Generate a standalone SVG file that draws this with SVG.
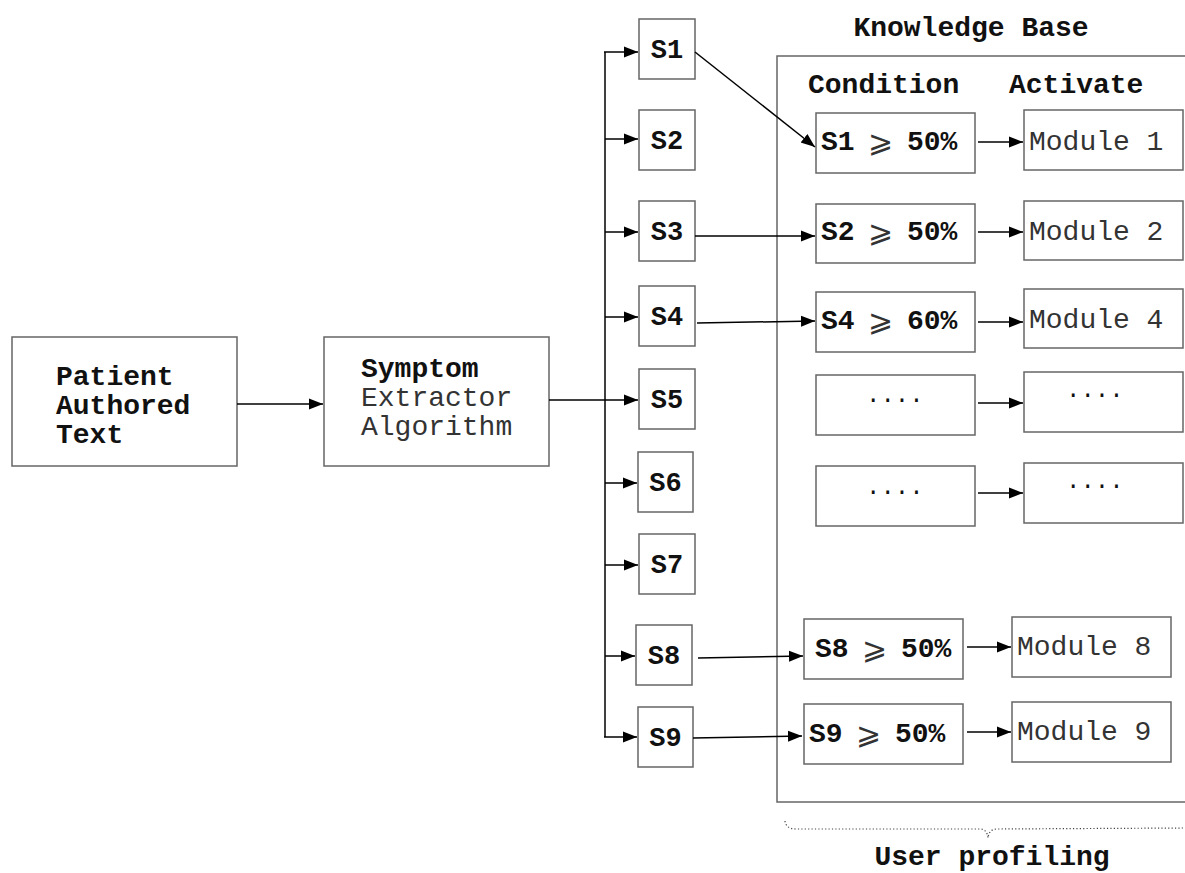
<svg xmlns="http://www.w3.org/2000/svg" width="1185" height="873" viewBox="0 0 1185 873">
<style>
.box{fill:#fff;stroke:#666;stroke-width:1.5}
.ln{fill:none;stroke:#000;stroke-width:1.5}
.arr{fill:none;stroke:#000;stroke-width:1.5;marker-end:url(#ah)}
.b{font-family:"Liberation Mono","Courier New",monospace;font-weight:bold;font-size:28px;fill:#111}
.n{font-family:"Liberation Mono","Courier New",monospace;font-weight:normal;font-size:28px;fill:#333}
.s{font-family:"Liberation Mono","Courier New",monospace;font-weight:bold;font-size:27px;fill:#111;text-anchor:middle}
.g{font-family:"DejaVu Sans","DejaVu Sans Mono",sans-serif;font-weight:normal;font-size:30px;fill:#333}
.d{font-family:"Liberation Mono","Courier New",monospace;font-size:24px;fill:#111}
.brace{fill:none;stroke:#444;stroke-width:1.2;stroke-dasharray:1.2 2.2}
</style>
<defs>
<marker id="ah" markerUnits="userSpaceOnUse" markerWidth="16" markerHeight="14" refX="14" refY="6" orient="auto">
<path d="M0,0.5 L14,6 L0,11.5 Z" fill="#000"/>
</marker>
</defs>

<g id="knowledge-base">
<rect class="box" x="777" y="56" width="430" height="746"/>
<text class="b" x="971" y="36" text-anchor="middle">Knowledge Base</text>
<text class="b" x="808" y="93">Condition</text>
<text class="b" x="1009" y="93">Activate</text>
</g>

<g id="patient-text">
<rect class="box" x="12" y="337" width="225" height="129"/>
<text class="b" x="56" y="385">Patient</text>
<text class="b" x="56" y="414">Authored</text>
<text class="b" x="56" y="443">Text</text>
</g>

<g id="symptom-extractor">
<rect class="box" x="324" y="337" width="225" height="129"/>
<text class="b" x="361" y="377">Symptom</text>
<text class="n" x="361" y="406">Extractor</text>
<text class="n" x="361" y="435">Algorithm</text>
</g>

<g id="s1"><rect class="box" x="639" y="19" width="56" height="60"/><text class="s" x="667" y="58">S1</text></g>
<g id="s2"><rect class="box" x="639" y="110" width="56" height="60"/><text class="s" x="667" y="149">S2</text></g>
<g id="s3"><rect class="box" x="639" y="201" width="56" height="60"/><text class="s" x="667" y="240">S3</text></g>
<g id="s4"><rect class="box" x="639" y="286" width="56" height="60"/><text class="s" x="667" y="325">S4</text></g>
<g id="s5"><rect class="box" x="639" y="369" width="56" height="60"/><text class="s" x="667" y="408">S5</text></g>
<g id="s6"><rect class="box" x="638" y="452" width="55" height="60"/><text class="s" x="665.5" y="491">S6</text></g>
<g id="s7"><rect class="box" x="639" y="534" width="56" height="60"/><text class="s" x="667" y="573">S7</text></g>
<g id="s8"><rect class="box" x="636" y="625" width="56" height="60"/><text class="s" x="664" y="664">S8</text></g>
<g id="s9"><rect class="box" x="638" y="707" width="55" height="60"/><text class="s" x="665.5" y="746">S9</text></g>

<g id="cond-s1"><rect class="box" x="816" y="113" width="159" height="60"/>
<text class="b"><tspan x="821" y="150">S1</tspan> <tspan class="g" x="868" y="152">⩾</tspan> <tspan x="907" y="150">50%</tspan></text></g>
<g id="cond-s2"><rect class="box" x="816" y="204" width="159" height="59"/>
<text class="b"><tspan x="821" y="240">S2</tspan> <tspan class="g" x="868" y="242">⩾</tspan> <tspan x="907" y="240">50%</tspan></text></g>
<g id="cond-s4"><rect class="box" x="816" y="292" width="159" height="60"/>
<text class="b"><tspan x="821" y="329">S4</tspan> <tspan class="g" x="868" y="331">⩾</tspan> <tspan x="907" y="329">60%</tspan></text></g>
<g id="cond-dots1"><rect class="box" x="816" y="375" width="159" height="60"/><text class="d" x="866" y="402">....</text></g>
<g id="cond-dots2"><rect class="box" x="816" y="466" width="159" height="60"/><text class="d" x="866" y="494">....</text></g>
<g id="cond-s8"><rect class="box" x="804" y="619" width="159" height="60"/>
<text class="b"><tspan x="815" y="657">S8</tspan> <tspan class="g" x="862" y="659">⩾</tspan> <tspan x="901" y="657">50%</tspan></text></g>
<g id="cond-s9"><rect class="box" x="804" y="704" width="159" height="60"/>
<text class="b"><tspan x="809" y="742">S9</tspan> <tspan class="g" x="856" y="744">⩾</tspan> <tspan x="895" y="742">50%</tspan></text></g>

<g id="module-1"><rect class="box" x="1024" y="110" width="159" height="60"/><text class="n" x="1029" y="150">Module 1</text></g>
<g id="module-2"><rect class="box" x="1024" y="201" width="159" height="59"/><text class="n" x="1029" y="240">Module 2</text></g>
<g id="module-4"><rect class="box" x="1024" y="289" width="159" height="59"/><text class="n" x="1029" y="328">Module 4</text></g>
<g id="module-dots1"><rect class="box" x="1024" y="372" width="159" height="60"/><text class="d" x="1066" y="397">....</text></g>
<g id="module-dots2"><rect class="box" x="1024" y="463" width="159" height="60"/><text class="d" x="1066" y="488">....</text></g>
<g id="module-8"><rect class="box" x="1012" y="617" width="159" height="60"/><text class="n" x="1017" y="655">Module 8</text></g>
<g id="module-9"><rect class="box" x="1012" y="702" width="159" height="60"/><text class="n" x="1017" y="740">Module 9</text></g>

<g id="user-profiling">
<path class="brace" d="M785,821 Q786,829 796,829 L980,829 Q987,829 988,838 Q989,829 997,829 L1185,828"/>
<text class="b" x="992" y="865" text-anchor="middle">User profiling</text>
</g>

<g id="connectors">
<line class="arr" x1="237" y1="404" x2="323" y2="404"/>
<line class="ln" x1="549" y1="400" x2="605" y2="400"/>
<line class="ln" x1="605" y1="52" x2="605" y2="737"/>
<line class="arr" x1="604" y1="52" x2="638" y2="52"/>
<line class="arr" x1="605" y1="139" x2="638" y2="139"/>
<line class="arr" x1="605" y1="232" x2="638" y2="232"/>
<line class="arr" x1="605" y1="317" x2="638" y2="317"/>
<line class="arr" x1="605" y1="400" x2="638" y2="400"/>
<line class="arr" x1="605" y1="483" x2="637" y2="483"/>
<line class="arr" x1="605" y1="565" x2="638" y2="565"/>
<line class="arr" x1="605" y1="656" x2="635" y2="656"/>
<line class="arr" x1="604" y1="737" x2="637" y2="737"/>
<line class="arr" x1="695" y1="52" x2="815" y2="147"/>
<line class="arr" x1="695" y1="236" x2="815" y2="236"/>
<line class="arr" x1="697" y1="323" x2="815" y2="321"/>
<line class="arr" x1="698" y1="658" x2="803" y2="656"/>
<line class="arr" x1="693" y1="738" x2="802" y2="736"/>
<line class="arr" x1="978" y1="142" x2="1023" y2="142"/>
<line class="arr" x1="978" y1="232" x2="1023" y2="232"/>
<line class="arr" x1="978" y1="322" x2="1023" y2="322"/>
<line class="arr" x1="978" y1="403" x2="1023" y2="403"/>
<line class="arr" x1="978" y1="493" x2="1023" y2="493"/>
<line class="arr" x1="967" y1="647" x2="1011" y2="647"/>
<line class="arr" x1="967" y1="732" x2="1011" y2="732"/>
</g>
</svg>
